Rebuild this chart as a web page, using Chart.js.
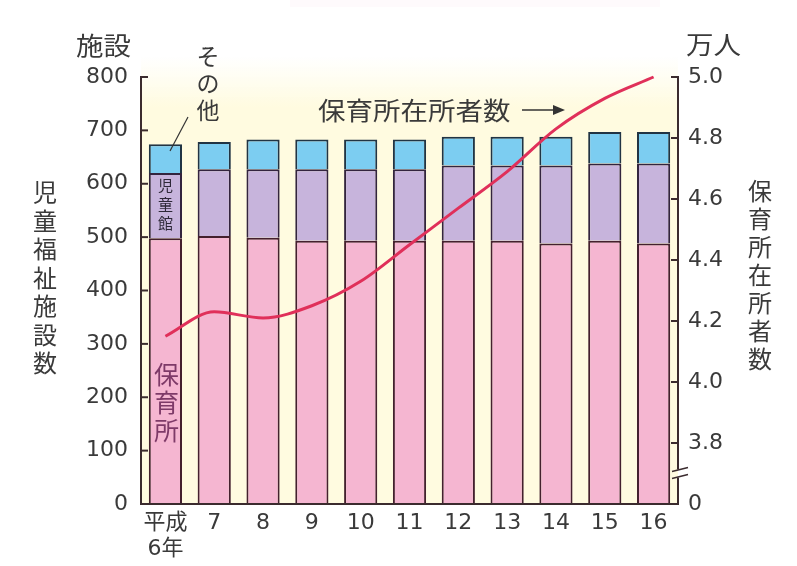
<!DOCTYPE html>
<html>
<head>
<meta charset="utf-8">
<script src="https://cdn.jsdelivr.net/npm/chart.js@4"></script>
<style>
html,body{margin:0;padding:0;background:#fff;}
#wrap{position:relative;width:797px;height:566px;}
</style>
</head>
<body>
<div id="wrap"><canvas id="c" width="797" height="566"></canvas></div>
<script>
// ---- data ----
const categories = [['平成', '6年'], '7', '8', '9', '10', '11', '12', '13', '14', '15', '16'];
const nurseryCounts = [498, 502, 499, 493, 493, 493, 493, 493, 488, 493, 488];      // 保育所
const childrenHallCounts = [122, 125, 128, 134, 134, 134, 141, 141, 146, 145, 150];  // 児童館
const otherCounts = [54, 51, 56, 56, 56, 56, 54, 54, 54, 59, 59];                    // その他
const enrolledTenThousands = [4.15, 4.23, 4.21, 4.25, 4.33, 4.45, 4.57, 4.69, 4.83, 4.93, 5.0]; // 保育所在所者数 (万人)
const leftRange = [0, 800, 100];
const rightRange = [3.6, 5.0, 0.2];
const rightBreakLabel = '0';

const NUM_FONT = "'DejaVu Sans', 'Noto Sans CJK JP', sans-serif";
const JP_FONT = "'Noto Sans CJK JP', sans-serif";
const AXIS_COLOR = '#3b2b2e';
const TEXT_COLOR = '#3a3a3a';

function vText(ctx, text, x, y0, step, size, color) {
  ctx.save();
  ctx.font = size + 'px ' + JP_FONT;
  ctx.fillStyle = color;
  ctx.textAlign = 'center';
  ctx.textBaseline = 'middle';
  [...text].forEach((ch, i) => ctx.fillText(ch, x, y0 + i * step));
  ctx.restore();
}
function hText(ctx, text, x, y, size, color, sx) {
  ctx.save();
  ctx.translate(x, y);
  ctx.scale(sx || 1, 1);
  ctx.font = size + 'px ' + JP_FONT;
  ctx.fillStyle = color;
  ctx.textAlign = 'left';
  ctx.textBaseline = 'middle';
  ctx.fillText(text, 0, 0);
  ctx.restore();
}

const decor = {
  id: 'decor',
  beforeDraw(chart) {
    const {ctx, chartArea: a} = chart;
    ctx.save();
    // faint header remnants at top
    ctx.fillStyle = 'rgba(250,225,238,0.18)';
    ctx.fillRect(290, 0, 370, 7);
    // cream plot background, fading toward the top
    const g = ctx.createLinearGradient(0, a.top - 20, 0, a.top + 30);
    g.addColorStop(0, 'rgba(255,251,224,0)');
    g.addColorStop(1, 'rgba(255,251,224,1)');
    ctx.fillStyle = g;
    ctx.fillRect(a.left, a.top - 20, a.right - a.left, 50);
    ctx.fillStyle = '#fffbe0';
    ctx.fillRect(a.left, a.top + 30, a.right - a.left, a.bottom - a.top - 30);
    ctx.restore();
  },
  afterDraw(chart) {
    const {ctx, chartArea: a, scales} = chart;
    const yL = scales.y, yR = scales.y1;
    ctx.save();
    ctx.strokeStyle = AXIS_COLOR;
    ctx.lineWidth = 2;
    // left axis
    ctx.beginPath();
    ctx.moveTo(a.left, a.top - 1); ctx.lineTo(a.left, a.bottom + 1);
    ctx.stroke();
    // bottom axis
    ctx.beginPath();
    ctx.moveTo(a.left - 1, a.bottom); ctx.lineTo(a.right + 1, a.bottom);
    ctx.stroke();
    // right axis with break
    const brk = yR.getPixelForValue(3.7);
    ctx.beginPath();
    ctx.moveTo(a.right, a.top - 1); ctx.lineTo(a.right, brk - 4);
    ctx.moveTo(a.right, brk + 4); ctx.lineTo(a.right, a.bottom + 1);
    ctx.stroke();
    ctx.lineWidth = 1.5;
    ctx.beginPath();
    ctx.moveTo(a.right - 6, brk - 2); ctx.lineTo(a.right + 10, brk - 6);
    ctx.moveTo(a.right - 6, brk + 5); ctx.lineTo(a.right + 10, brk + 1);
    ctx.stroke();
    // inward ticks
    ctx.lineWidth = 2;
    yL.ticks.forEach(t => {
      if (t.value === 0) return;
      const p = yL.getPixelForValue(t.value);
      ctx.beginPath(); ctx.moveTo(a.left, p); ctx.lineTo(a.left + 7, p); ctx.stroke();
    });
    yR.ticks.forEach(t => {
      if (Math.abs(t.value - rightRange[0]) < 1e-6) return;
      const p = yR.getPixelForValue(t.value);
      ctx.beginPath(); ctx.moveTo(a.right, p); ctx.lineTo(a.right - 7, p); ctx.stroke();
    });
    ctx.restore();

    // unit labels and axis titles
    hText(ctx, '施設', 76, 45, 25, TEXT_COLOR, 1.1);
    hText(ctx, '万人', 686, 44, 25, TEXT_COLOR, 1.1);
    vText(ctx, '児童福祉施設数', 45, 192, 28.5, 24, TEXT_COLOR);
    vText(ctx, '保育所在所者数', 760, 191, 28, 24, TEXT_COLOR);
    // in-chart labels
    vText(ctx, 'その他', 208, 56, 27, 23, TEXT_COLOR);
    ctx.save();
    ctx.strokeStyle = '#333'; ctx.lineWidth = 1.2;
    ctx.beginPath(); ctx.moveTo(188, 117); ctx.lineTo(170, 151); ctx.stroke();
    ctx.restore();
    hText(ctx, '保育所在所者数', 318, 110, 25, TEXT_COLOR, 1.1);
    ctx.save();
    ctx.strokeStyle = '#333'; ctx.fillStyle = '#333'; ctx.lineWidth = 1.6;
    ctx.beginPath(); ctx.moveTo(522, 110); ctx.lineTo(556, 110); ctx.stroke();
    ctx.beginPath(); ctx.moveTo(565, 110); ctx.lineTo(553, 105); ctx.lineTo(553, 115); ctx.closePath(); ctx.fill();
    ctx.restore();
    const x0 = scales.x.getPixelForValue(0);
    vText(ctx, '児童館', x0, 185, 19, 15, '#2e2838');
    vText(ctx, '保育所', x0 + 1, 374, 28, 25, '#7e3a68');
  }
};

new Chart(document.getElementById('c'), {
  type: 'bar',
  data: {
    labels: categories,
    datasets: [
      {
        type: 'line', label: '保育所在所者数', data: enrolledTenThousands, yAxisID: 'y1',
        borderColor: '#e0305a', borderWidth: 3, pointRadius: 0, tension: 0.3,
        cubicInterpolationMode: 'monotone', order: 0, clip: false, fill: false
      },
      {
        label: '保育所', data: nurseryCounts, yAxisID: 'y', stack: 's',
        backgroundColor: '#f5b6d1', borderColor: '#44202e', borderWidth: 2, order: 1,
        barPercentage: 0.68, categoryPercentage: 1
      },
      {
        label: '児童館', data: childrenHallCounts, yAxisID: 'y', stack: 's',
        backgroundColor: '#c7b4dc', borderColor: '#33243e', borderWidth: 2, order: 1,
        barPercentage: 0.68, categoryPercentage: 1
      },
      {
        label: 'その他', data: otherCounts, yAxisID: 'y', stack: 's',
        backgroundColor: '#7ccdf1', borderColor: '#213444', borderWidth: 2, order: 1,
        barPercentage: 0.68, categoryPercentage: 1
      }
    ]
  },
  options: {
    responsive: false,
    animation: false,
    events: [],
    layout: {padding: {top: 77, left: 0, right: 0, bottom: 0}},
    plugins: {legend: {display: false}, tooltip: {enabled: false}},
    scales: {
      x: {
        stacked: true,
        grid: {display: false, drawTicks: false},
        border: {display: false},
        ticks: {
          color: TEXT_COLOR, padding: 6, maxRotation: 0, autoSkip: false,
          font: {family: NUM_FONT, size: 22, lineHeight: 1.2}
        },
        afterFit(s) { s.height = 62; }
      },
      y: {
        position: 'left', stacked: true,
        min: leftRange[0], max: leftRange[1],
        grid: {display: false, drawTicks: false},
        border: {display: false},
        ticks: {stepSize: leftRange[2], color: TEXT_COLOR, padding: 13,
          font: {family: NUM_FONT, size: 22}},
        afterFit(s) { s.width = 141; }
      },
      y1: {
        position: 'right',
        min: rightRange[0], max: rightRange[1],
        grid: {display: false, drawTicks: false},
        border: {display: false},
        ticks: {
          stepSize: rightRange[2], color: TEXT_COLOR, padding: 10,
          font: {family: NUM_FONT, size: 22},
          callback: v => Math.abs(v - rightRange[0]) < 1e-6 ? rightBreakLabel : Number(v).toFixed(1)
        },
        afterFit(s) { s.width = 119; }
      }
    }
  },
  plugins: [decor]
});
</script>
</body>
</html>
